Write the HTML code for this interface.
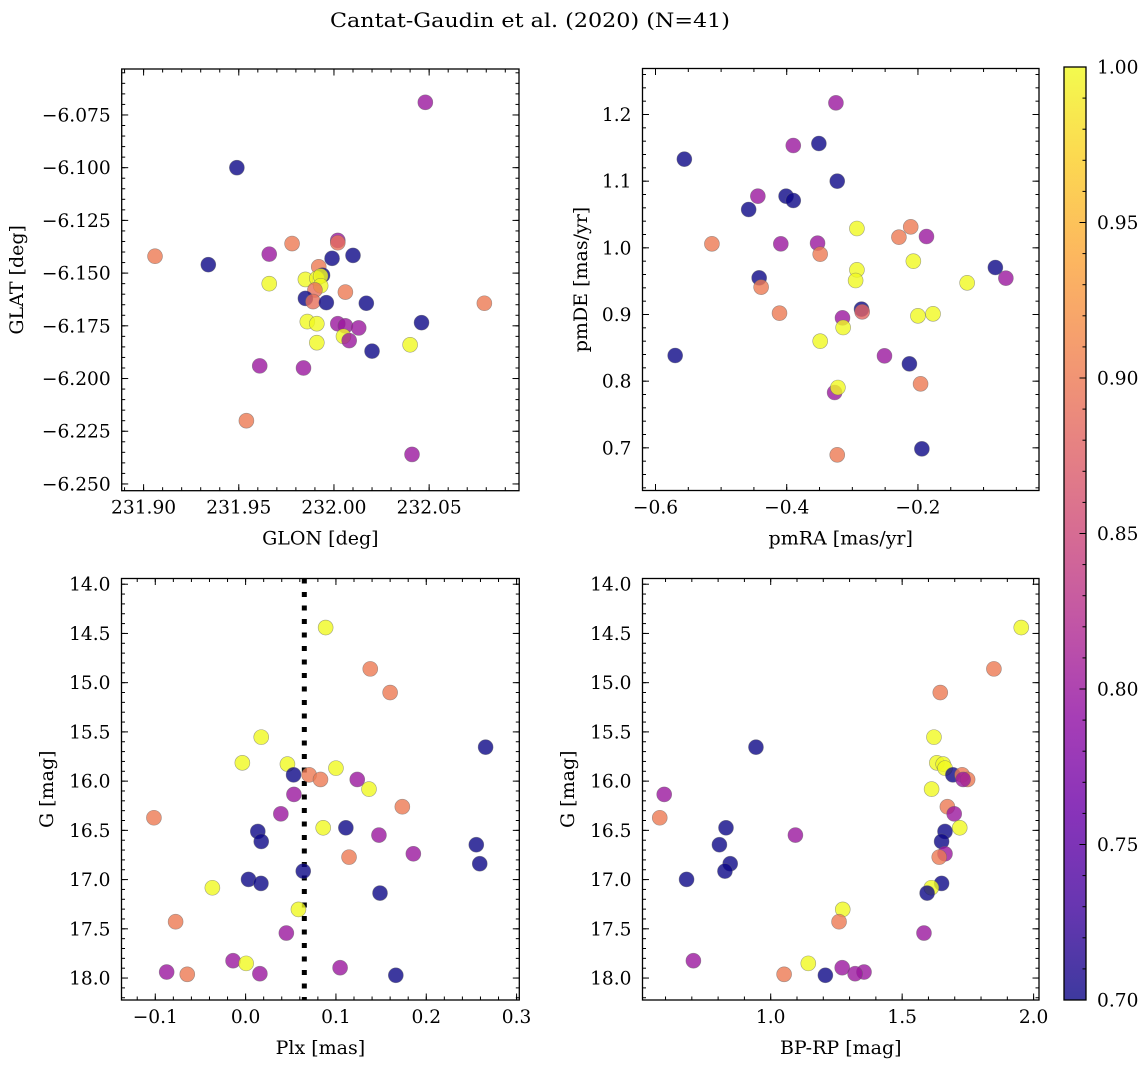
<!DOCTYPE html>
<html><head><meta charset="utf-8"><style>
html,body{margin:0;padding:0;background:#fff;}
svg{display:block;font-family:"DejaVu Serif","Liberation Serif",serif;}
</style></head><body>
<svg id="fig" width="1148" height="1067" viewBox="0 0 1148 1067">
<text x="530" y="27" text-anchor="middle" font-size="19.5" textLength="400" lengthAdjust="spacingAndGlyphs">Cantat-Gaudin et al. (2020) (N=41)</text>
</svg>
<script>
// ---- Panel 1: GLON / GLAT ----
const glon = [232.048,231.949,231.906,231.934,231.966,231.978,232.002,232.002,231.999,232.010,231.992,231.994,231.985,231.991,231.993,231.993,231.990,231.966,231.985,231.989,231.996,232.006,232.017,232.079,231.986,231.991,232.002,232.006,232.013,232.046,232.005,232.008,231.991,232.020,232.040,231.961,231.984,231.954,232.041];
const glat = [-6.069,-6.100,-6.142,-6.146,-6.141,-6.136,-6.1345,-6.1356,-6.143,-6.1416,-6.147,-6.151,-6.153,-6.1525,-6.1514,-6.156,-6.158,-6.155,-6.162,-6.1635,-6.164,-6.159,-6.1643,-6.1643,-6.173,-6.174,-6.174,-6.175,-6.176,-6.1735,-6.180,-6.182,-6.183,-6.187,-6.184,-6.194,-6.195,-6.220,-6.236];
const prob1 = [0.80,0.70,0.90,0.70,0.80,0.90,0.80,0.89,0.70,0.70,0.90,0.70,1.0,1.0,1.0,1.0,0.89,1.0,0.70,0.89,0.70,0.90,0.70,0.90,1.0,1.0,0.80,0.80,0.80,0.70,1.0,0.80,1.0,0.70,1.0,0.80,0.80,0.90,0.80];
// ---- Panel 2: proper motions ----
const pmra = [-0.325,-0.390,-0.351,-0.556,-0.323,-0.444,-0.401,-0.390,-0.458,-0.293,-0.211,-0.229,-0.187,-0.514,-0.409,-0.353,-0.349,-0.207,-0.293,-0.295,-0.082,-0.066,-0.125,-0.442,-0.439,-0.411,-0.286,-0.285,-0.315,-0.314,-0.200,-0.177,-0.349,-0.570,-0.251,-0.213,-0.196,-0.327,-0.322,-0.194,-0.323];
const pmde = [1.2175,1.1535,1.1565,1.133,1.100,1.0775,1.0775,1.071,1.0575,1.029,1.0315,1.016,1.017,1.006,1.006,1.007,0.9905,0.980,0.967,0.951,0.9705,0.9545,0.9475,0.955,0.941,0.902,0.908,0.904,0.895,0.8805,0.898,0.901,0.860,0.8385,0.838,0.826,0.796,0.783,0.7905,0.6985,0.6895];
const prob2 = [0.80,0.80,0.70,0.70,0.70,0.80,0.70,0.70,0.70,1.0,0.90,0.90,0.80,0.90,0.80,0.80,0.90,1.0,1.0,1.0,0.70,0.80,1.0,0.70,0.90,0.90,0.70,0.88,0.80,1.0,1.0,1.0,1.0,0.70,0.80,0.70,0.90,0.80,1.0,0.70,0.90];
// ---- Panels 3 & 4: same stars ----
const gmag = [14.44,14.86,15.10,15.553,15.655,15.814,15.827,15.868,15.936,15.936,15.983,15.983,16.081,16.135,16.26,16.332,16.372,16.474,16.474,16.511,16.548,16.613,16.646,16.738,16.772,16.839,16.914,16.998,17.039,17.083,17.137,17.303,17.428,17.543,17.824,17.851,17.895,17.939,17.956,17.962,17.972];
const plx = [0.0886,0.138,0.160,0.0173,0.2657,-0.0036,0.0463,0.100,0.0531,0.0703,0.0829,0.1236,0.1366,0.0535,0.1735,0.039,-0.1015,0.0859,0.111,0.0135,0.1476,0.0173,0.2554,0.1857,0.1145,0.2592,0.0638,0.0032,0.017,-0.0368,0.1488,0.0585,-0.0775,0.0451,-0.0139,0.0006,0.1046,-0.0874,0.0158,-0.0646,0.1663];
const bprp = [1.953,1.849,1.645,1.621,0.944,1.632,1.656,1.663,1.693,1.728,1.749,1.732,1.612,0.595,1.672,1.698,0.578,1.719,0.830,1.663,1.094,1.650,0.805,1.663,1.641,0.846,0.826,0.680,1.650,1.611,1.595,1.274,1.260,1.583,0.706,1.143,1.272,1.355,1.321,1.051,1.208];
const prob34 = [1.0,0.90,0.90,1.0,0.70,1.0,1.0,1.0,0.70,0.90,0.90,0.80,1.0,0.80,0.90,0.80,0.90,1.0,0.70,0.70,0.80,0.70,0.70,0.80,0.90,0.70,0.70,0.70,0.70,1.0,0.70,1.0,0.90,0.80,0.80,1.0,0.80,0.80,0.80,0.90,0.70];
const plxMean = [0.065];
// ---- ticks ----
const p1xTicks = [231.90,231.95,232.00,232.05];
const p1xLabels = ["231.90","231.95","232.00","232.05"];
const p1yTicks = [-6.075,-6.100,-6.125,-6.150,-6.175,-6.200,-6.225,-6.250];
const p1yLabels = ["−6.075","−6.100","−6.125","−6.150","−6.175","−6.200","−6.225","−6.250"];
const p2xTicks = [-0.6,-0.4,-0.2];
const p2xLabels = ["−0.6","−0.4","−0.2"];
const p2yTicks = [0.7,0.8,0.9,1.0,1.1,1.2];
const p2yLabels = ["0.7","0.8","0.9","1.0","1.1","1.2"];
const p3xTicks = [-0.1,0.0,0.1,0.2,0.3];
const p3xLabels = ["−0.1","0.0","0.1","0.2","0.3"];
const gTicks = [14.0,14.5,15.0,15.5,16.0,16.5,17.0,17.5,18.0];
const gLabels = ["14.0","14.5","15.0","15.5","16.0","16.5","17.0","17.5","18.0"];
const p4xTicks = [1.0,1.5,2.0];
const p4xLabels = ["1.0","1.5","2.0"];
const cbTicks = [0.70,0.75,0.80,0.85,0.90,0.95,1.00];
const cbLabels = ["0.70","0.75","0.80","0.85","0.90","0.95","1.00"];

const NS = "http://www.w3.org/2000/svg";
const svg = document.getElementById('fig');
const FS = 18.6;
function mk(tag, attrs, parent){
  const e = document.createElementNS(NS, tag);
  for (const k in attrs) e.setAttribute(k, attrs[k]);
  (parent||svg).appendChild(e);
  return e;
}
function tw(s){ let w=0; for(const ch of s){ w += ch==='.'?0.318:(ch==='−'?0.838:0.636); } return w*FS; }
const PL = [[0,'#0d0887'],[0.1,'#41049d'],[0.2,'#6a00a8'],[0.3,'#8f0da4'],[0.4,'#b12a90'],[0.5,'#cc4778'],[0.6,'#e16462'],[0.7,'#f2844b'],[0.8,'#fca636'],[0.9,'#fcce25'],[1,'#f0f921']];
function hx(h){return [parseInt(h.substr(1,2),16),parseInt(h.substr(3,2),16),parseInt(h.substr(5,2),16)];}
function plasma(t){
  t=Math.max(0,Math.min(1,t));
  for(let i=0;i<PL.length-1;i++){
    if(t<=PL[i+1][0]){
      const f=(t-PL[i][0])/(PL[i+1][0]-PL[i][0]);
      const a=hx(PL[i][1]),b=hx(PL[i+1][1]);
      return 'rgb('+a.map((v,j)=>Math.round(v+(b[j]-v)*f)).join(',')+')';
    }
  }
  return PL[PL.length-1][1];
}
function cnorm(c){return (c-0.70)/0.30;}

function panel(cfg){
  const g = mk('g', {});
  
  
  const L=cfg.box[0],R=cfg.box[1],T=cfg.box[2],B=cfg.box[3];
  const sx = v => L + (v-cfg.xr[0])/(cfg.xr[1]-cfg.xr[0])*(R-L);
  const sy = v => cfg.yinv ? T + (v-cfg.yr[0])/(cfg.yr[1]-cfg.yr[0])*(B-T)
                           : B - (v-cfg.yr[0])/(cfg.yr[1]-cfg.yr[0])*(B-T);
  const clip = 'clip-'+cfg.name;
  const cp = mk('clipPath',{id:clip},g); mk('rect',{x:L,y:T,width:R-L,height:B-T},cp);
  const marks = mk('g',{'clip-path':'url(#'+clip+')'},g);
  
  
  if (cfg.vline){
    const ln = mk('line',{x1:sx(cfg.vline[0]),x2:sx(cfg.vline[0]),y1:T,y2:B,stroke:'#000','stroke-width':5,'stroke-dasharray':'5 8.5'},marks);
    
    
  }
  for(let i=0;i<cfg.x.length;i++){
    const c = mk('circle',{cx:sx(cfg.x[i]),cy:sy(cfg.y[i]),r:7.5,fill:plasma(cnorm(cfg.c[i])),'fill-opacity':0.8,stroke:'#666','stroke-opacity':0.6,'stroke-width':0.6},marks);
    
    
  }
  const tk = mk('g',{stroke:'#000','stroke-width':1},g);
  const nx0=Math.ceil((cfg.xr[0])/cfg.xm-1e-6), nx1=Math.floor(cfg.xr[1]/cfg.xm+1e-6);
  for(let n=nx0;n<=nx1;n++){const X=sx(n*cfg.xm);
    mk('line',{x1:X,x2:X,y1:B,y2:B-3.5},tk); mk('line',{x1:X,x2:X,y1:T,y2:T+3.5},tk);}
  const ny0=Math.ceil(Math.min(cfg.yr[0],cfg.yr[1])/cfg.ym-1e-6), ny1=Math.floor(Math.max(cfg.yr[0],cfg.yr[1])/cfg.ym+1e-6);
  for(let n=ny0;n<=ny1;n++){const Y=sy(n*cfg.ym);
    mk('line',{x1:L,x2:L+3.5,y1:Y,y2:Y},tk); mk('line',{x1:R,x2:R-3.5,y1:Y,y2:Y},tk);}
  cfg.xt.forEach((v,i)=>{const X=sx(v);
    mk('line',{x1:X,x2:X,y1:B,y2:B-6.5},tk); mk('line',{x1:X,x2:X,y1:T,y2:T+6.5},tk);
    const t=mk('text',{x:X,y:B+23,'text-anchor':'middle','font-size':FS,textLength:tw(cfg.xl[i]),lengthAdjust:'spacingAndGlyphs'},g); t.textContent=cfg.xl[i];
    
    
  });
  cfg.yt.forEach((v,i)=>{const Y=sy(v);
    mk('line',{x1:L,x2:L+6.5,y1:Y,y2:Y},tk); mk('line',{x1:R,x2:R-6.5,y1:Y,y2:Y},tk);
    const t=mk('text',{x:L-11,y:Y+6.5,'text-anchor':'end','font-size':FS,textLength:tw(cfg.yl[i]),lengthAdjust:'spacingAndGlyphs'},g); t.textContent=cfg.yl[i];
    
    
  });
  const fr = mk('rect',{x:L,y:T,width:R-L,height:B-T,fill:'none',stroke:'#000','stroke-width':1.3},g);
  
  
  const xt = mk('text',{x:(L+R)/2,y:B+54,'text-anchor':'middle','font-size':19},g); xt.textContent=cfg.xlab;
  
  
  const yt = mk('text',{x:cfg.ylx,y:(T+B)/2,'text-anchor':'middle','font-size':19,transform:'rotate(-90 '+cfg.ylx+' '+((T+B)/2)+')','dominant-baseline':'central'},g); yt.textContent=cfg.ylab;
  
  
}

panel({name:'glon-glat-panel',box:[121.7,519,69,490.7],xr:[231.8885,232.0972],yr:[-6.2532,-6.0532],yinv:false,
  x:glon,y:glat,c:prob1,xt:p1xTicks,xl:p1xLabels,yt:p1yTicks,yl:p1yLabels,xm:0.01,ym:0.005,xlab:'GLON [deg]',ylab:'GLAT [deg]',ylx:17});
panel({name:'proper-motion-panel',box:[642.5,1039,68.5,490.5],xr:[-0.6198,-0.0155],yr:[0.636,1.269],yinv:false,
  x:pmra,y:pmde,c:prob2,xt:p2xTicks,xl:p2xLabels,yt:p2yTicks,yl:p2yLabels,xm:0.05,ym:0.02,xlab:'pmRA [mas/yr]',ylab:'pmDE [mas/yr]',ylx:581});
panel({name:'parallax-mag-panel',box:[121.5,519.3,578.5,1000],xr:[-0.1374,0.303],yr:[13.942,18.223],yinv:true,
  x:plx,y:gmag,c:prob34,xt:p3xTicks,xl:p3xLabels,yt:gTicks,yl:gLabels,xm:0.02,ym:0.1,xlab:'Plx [mas]',ylab:'G [mag]',ylx:47,vline:plxMean});
panel({name:'cmd-panel',box:[642.5,1039,578.5,1000],xr:[0.5124,2.0205],yr:[13.942,18.223],yinv:true,
  x:bprp,y:gmag,c:prob34,xt:p4xTicks,xl:p4xLabels,yt:gTicks,yl:gLabels,xm:0.1,ym:0.1,xlab:'BP-RP [mag]',ylab:'G [mag]',ylx:568});

(function(){
  const L=1064,R=1086,T=67,B=1000;
  const cb = mk('g',{});
  
  
  const defs = mk('defs',{},cb);
  const lg = mk('linearGradient',{id:'cbgrad',x1:0,y1:1,x2:0,y2:0},defs);
  for(let i=0;i<=20;i++){ mk('stop',{offset:i/20,'stop-color':plasma(i/20)},lg); }
  mk('rect',{x:L,y:T,width:R-L,height:B-T,fill:'url(#cbgrad)','fill-opacity':0.8},cb);
  const sy = v => B-(v-0.70)/0.30*(B-T);
  for(let n=70;n<=100;n++){ const Y=sy(n/100); mk('line',{x1:R,x2:R-3.5,y1:Y,y2:Y,stroke:'#000','stroke-width':1},cb); }
  cbTicks.forEach((v,i)=>{ const Y=sy(v);
    mk('line',{x1:R,x2:R-6.5,y1:Y,y2:Y,stroke:'#000','stroke-width':1},cb);
    const t=mk('text',{x:R+11,y:Y+6.5,'font-size':FS,textLength:tw(cbLabels[i]),lengthAdjust:'spacingAndGlyphs'},cb); t.textContent=cbLabels[i];
    
    
  });
  mk('rect',{x:L,y:T,width:R-L,height:B-T,fill:'none',stroke:'#000','stroke-width':1.3},cb);
})();
</script>
</body></html>
